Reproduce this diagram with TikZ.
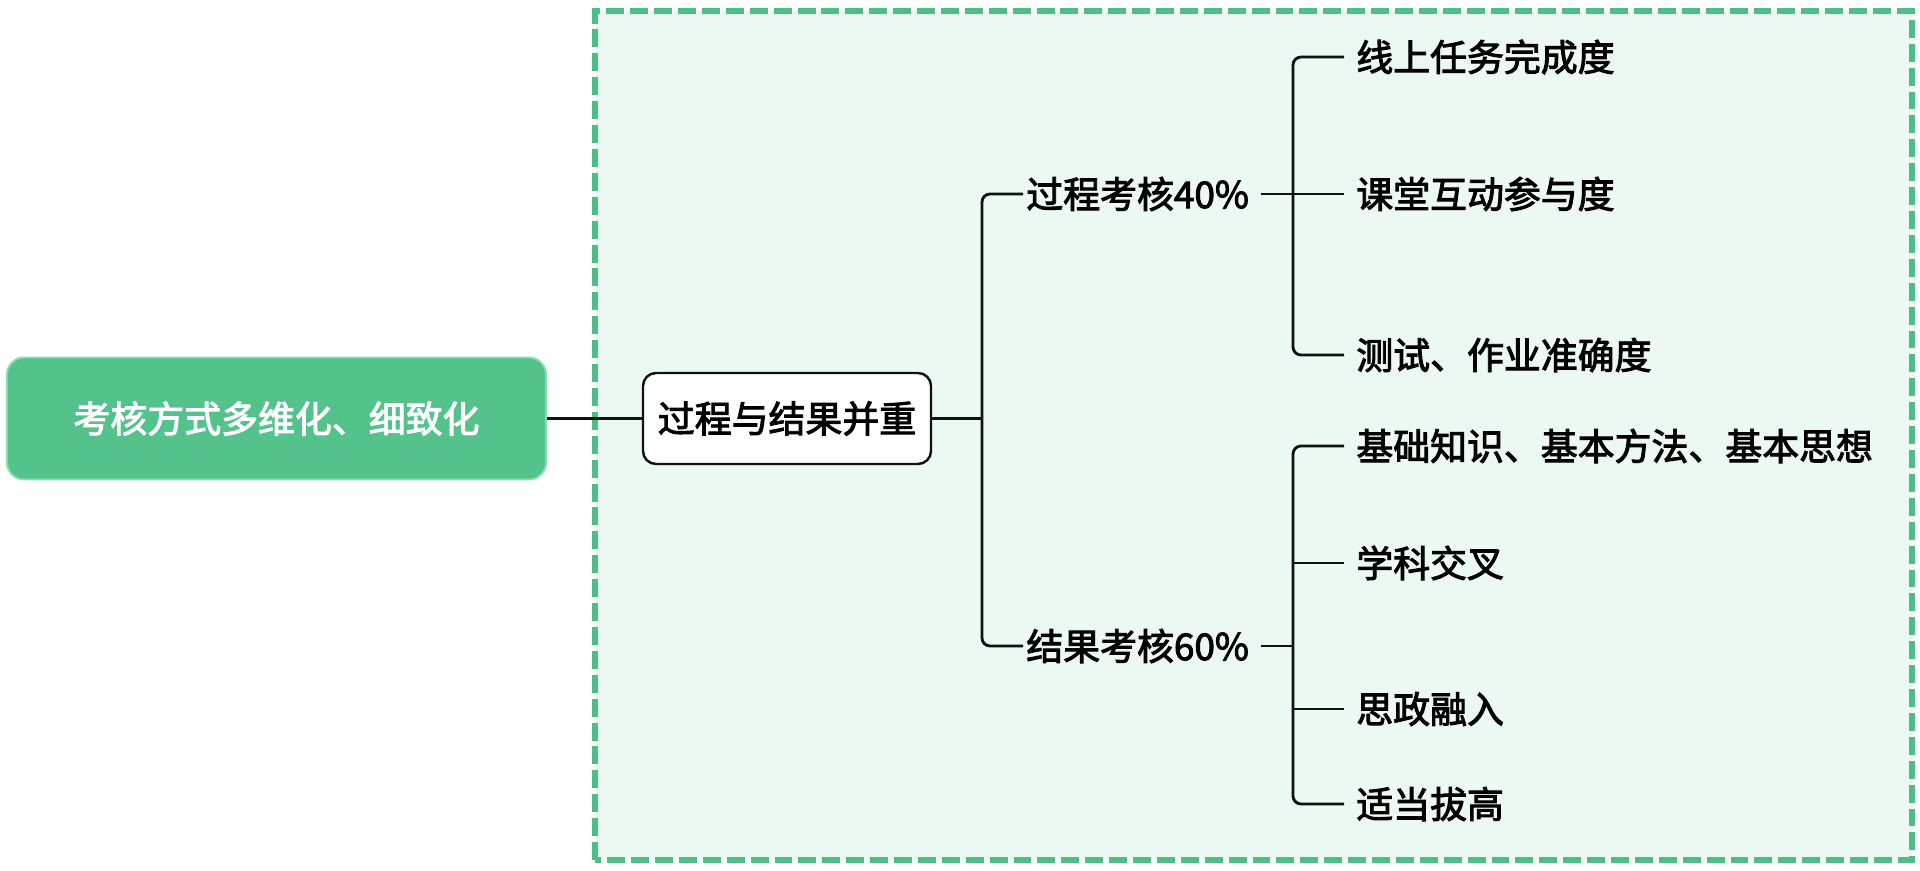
\documentclass[tikz,border=0pt]{standalone}
\usepackage{fontspec}
\setmainfont[FakeBold=2.6]{Noto Sans CJK SC}
\usetikzlibrary{positioning}
\definecolor{framegreen}{HTML}{4DBE85}
\definecolor{framefill}{HTML}{ECF8F2}
\definecolor{rootfill}{HTML}{54C38B}
\definecolor{rootborder}{HTML}{8ADDB2}
\definecolor{linkblack}{HTML}{111111}

\begin{document}
\begin{tikzpicture}[
    rootbox/.style={rectangle, rounded corners=0.34cm, minimum width=10.78cm, minimum height=2.44cm, fill=rootfill, draw=rootborder, line width=1.1pt, text=white, font=\fontsize{21}{25}\selectfont},
    midbox/.style={rectangle, rounded corners=0.26cm, minimum width=5.76cm, minimum height=1.82cm, fill=white, draw=linkblack, line width=1.4pt, font=\fontsize{21}{25}\selectfont},
    levelnode/.style={anchor=west, inner xsep=1.7pt, font=\fontsize{21}{25}\selectfont},
    leafnode/.style={anchor=west, inner xsep=6.8pt, font=\fontsize{21}{25}\selectfont},
    link/.style={linkblack, line width=1.6pt, rounded corners=0.16cm}
]
\useasboundingbox (0,0) rectangle (38.4,17.4);

% Dashed frame
\draw[framegreen, fill=framefill, line width=3.3pt, dash pattern=on 10.2pt off 3.4pt] (11.9,0.2) rectangle (38.24,17.18);

% Root and middle box
\node[rootbox] (root) at (5.53, 9.03) {考核方式多维化、细致化};
\node[midbox] (mid) at (15.74, 9.03) {过程与结果并重};

% Second level
\node[levelnode] (proc) at (20.46, 13.52) {过程考核40\%};
\node[levelnode] (res) at (20.46, 4.48) {结果考核60\%};

% Leaves
\node[leafnode] (l1) at (26.88, 16.26) {线上任务完成度};
\node[leafnode] (l2) at (26.88, 13.52) {课堂互动参与度};
\node[leafnode] (l3) at (26.88, 10.30) {测试、作业准确度};
\node[leafnode] (l4) at (26.88, 8.48) {基础知识、基本方法、基本思想};
\node[leafnode] (l5) at (26.88, 6.14) {学科交叉};
\node[leafnode] (l6) at (26.88, 3.22) {思政融入};
\node[leafnode] (l7) at (26.88, 1.32) {适当拔高};

% Junctions
\coordinate (j0) at (19.64, 9.03);
\coordinate (j1) at (25.86, 13.52);
\coordinate (j2) at (25.86, 4.48);

% Connecting lines
\draw[link] (root.east) -- (mid.west);
\draw[link] (mid.east) -- (j0);
\draw[link] (proc.west) -| (j0) |- (res.west);
\draw[link] ([xshift=0.18cm]proc.east) -- (j1);
\draw[link] (l1.west) -| (j1) |- (l3.west);
\draw[link] (j1) -- (l2.west);
\draw[link] ([xshift=0.18cm]res.east) -- (j2);
\draw[link] (l4.west) -| (j2) |- (l7.west);
\draw[link] (l5.west -| j2) -- (l5.west);
\draw[link] (l6.west -| j2) -- (l6.west);

\end{tikzpicture}
\end{document}
